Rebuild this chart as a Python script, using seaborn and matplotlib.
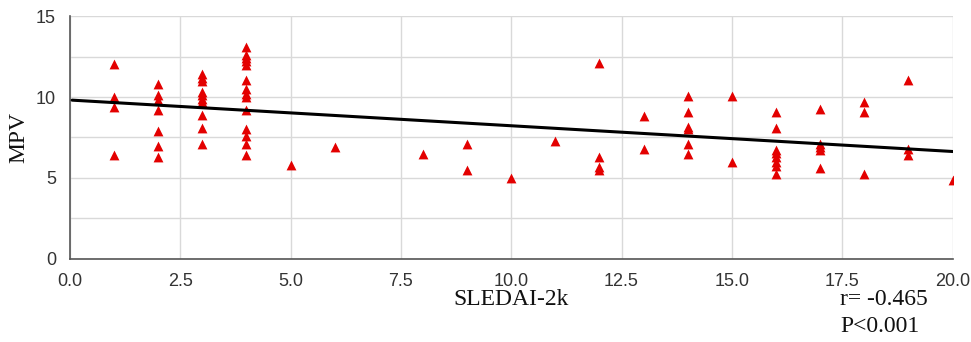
import numpy as np
import pandas as pd
import matplotlib
matplotlib.use("Agg")
import matplotlib.pyplot as plt
import seaborn as sns

# SLEDAI-2k scores and MPV values
sledai = ([1]*4 + [2]*7 + [3]*10 + [4]*14 + [5, 6, 8] + [9]*2 + [10, 11] + [12]*4 +
          [13]*2 + [14]*6 + [15]*2 + [16]*8 + [17]*5 + [18]*3 + [19]*3 + [20])
mpv = ([12.05, 10.0, 9.4, 6.4] +
       [10.8, 10.1, 9.8, 9.2, 7.9, 7.0, 6.3] +
       [11.4, 11.15, 11.0, 10.3, 10.1, 9.9, 9.7, 8.9, 8.1, 7.1] +
       [13.1, 12.6, 12.4, 12.2, 12.0, 11.05, 10.5, 10.2, 10.0, 9.2, 8.0, 7.6, 7.1, 6.4] +
       [5.8, 6.9, 6.45] +
       [7.1, 5.5] +
       [5.0, 7.3] +
       [12.1, 6.3, 5.65, 5.5] +
       [8.85, 6.8] +
       [10.05, 9.05, 8.15, 8.0, 7.1, 6.5] +
       [10.05, 6.0] +
       [9.05, 8.1, 6.75, 6.55, 6.3, 6.0, 5.75, 5.25] +
       [9.25, 7.1, 6.9, 6.7, 5.6] +
       [9.7, 9.05, 5.25] +
       [11.05, 6.8, 6.4] +
       [4.9])

x_ticks = [0.0, 2.5, 5.0, 7.5, 10.0, 12.5, 15.0, 17.5, 20.0]
y_ticks = [0, 5, 10, 15]
annot = ["r= -0.465", "P<0.001"]

df = pd.DataFrame({"SLEDAI-2k": sledai, "MPV": mpv})

sns.set_theme(style="white")
plt.rcParams["font.family"] = ["Liberation Sans", "DejaVu Sans"]

fig = plt.figure(figsize=(9.71, 3.42), dpi=100)
ax = fig.add_axes([0.072, 0.243, 0.909, 0.710])

sns.regplot(data=df, x="SLEDAI-2k", y="MPV", ax=ax, ci=None, truncate=False,
            marker="^", scatter_kws={"s": 50, "color": "#e30000", "alpha": 1,
                                     "linewidths": 0, "zorder": 3},
            line_kws={"color": "black", "linewidth": 2.2, "zorder": 4})

ax.set_xlim(0, 20)
ax.set_ylim(0, 15)
ax.set_xticks(x_ticks)
ax.set_xticklabels([f"{v:.1f}" for v in x_ticks], fontsize=13, color="#333333")
grid_y = np.arange(0, 15.01, 2.5)
ax.set_yticks(grid_y)
ax.set_yticklabels([str(int(v)) if v in y_ticks else "" for v in grid_y],
                   fontsize=13, color="#333333")
ax.tick_params(axis="x", length=0, pad=10)
ax.tick_params(axis="y", length=0, pad=10)
ax.grid(True, color="#d9d9d9", linewidth=1.0)
ax.set_axisbelow(True)
for s in ["top", "right"]:
    ax.spines[s].set_visible(False)
for s in ["left", "bottom"]:
    ax.spines[s].set_color("#555555")
    ax.spines[s].set_linewidth(1.2)

ax.set_xlabel("SLEDAI-2k", family="Liberation Serif", fontsize=17, color="#111111", va="center")
ax.xaxis.set_label_coords(0.5, -0.169)
ax.set_ylabel("MPV", family="Liberation Serif", fontsize=17, color="#111111", va="center")
ax.yaxis.set_label_coords(-0.058, 0.5)

fig.text(0.865, 0.123, annot[0], family="Liberation Serif", fontsize=17, color="#111111", va="center")
fig.text(0.865, 0.044, annot[1], family="Liberation Serif", fontsize=17, color="#111111", va="center")

fig.savefig("out.png", dpi=100)
